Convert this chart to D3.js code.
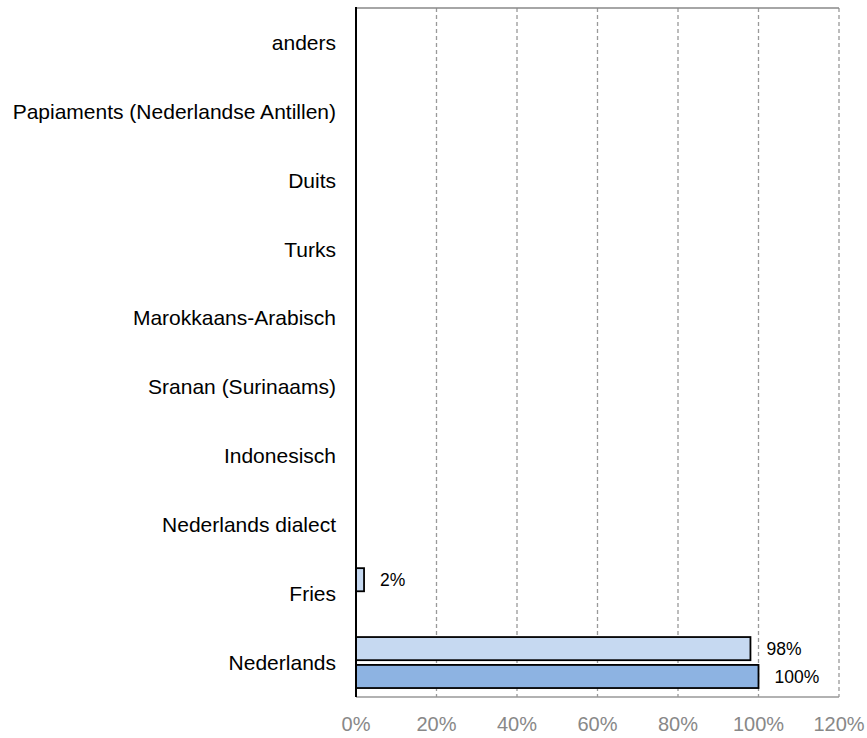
<!DOCTYPE html>
<html><head><meta charset="utf-8">
<script src="https://cdn.jsdelivr.net/npm/d3@7"></script>
<style>body{margin:0;background:#fff}svg{display:block}text{font-family:"Liberation Sans",Arial,sans-serif}</style>
</head><body>
<svg id="c" width="867" height="738"></svg>
<script>
const categories = ["Nederlands","Fries","Nederlands dialect","Indonesisch","Sranan (Surinaams)","Marokkaans-Arabisch","Turks","Duits","Papiaments (Nederlandse Antillen)","anders"];
const seriesNames = ["A","B"];
const seriesA = [98, 2, 0, 0, 0, 0, 0, 0, 0, 0];
const seriesB = [100, null, null, null, null, null, null, null, null, null];
const xTicks = [0, 20, 40, 60, 80, 100, 120];
const colors = ["#C6D9F1", "#8DB3E2"];

const svg = d3.select("#c");
const L = 356, R = 839, T = 8, B = 697;
const x = d3.scaleLinear().domain([0, 120]).range([L, R]);
const y = d3.scaleBand().domain(categories.slice().reverse()).range([T, B]).paddingInner(0.26).paddingOuter(0.13);
const sub = d3.scaleBand().domain(seriesNames).range([0, y.bandwidth()]).paddingInner(0.17);

// grid
svg.append("g").selectAll("line").data(xTicks.slice(1)).join("line")
  .attr("x1", d => x(d)).attr("x2", d => x(d)).attr("y1", T).attr("y2", B)
  .attr("stroke", "#999").attr("stroke-width", 1.3).attr("stroke-dasharray", "4,3");
// frame
svg.append("line").attr("x1", L).attr("x2", R).attr("y1", T).attr("y2", T).attr("stroke", "#888").attr("stroke-width", 1.5);
svg.append("line").attr("x1", L).attr("x2", R).attr("y1", B).attr("y2", B).attr("stroke", "#999").attr("stroke-width", 1.5);

const data = [];
categories.forEach((c, i) => {
  [seriesA, seriesB].forEach((s, j) => {
    if (s[i] !== null && s[i] > 0) data.push({c, s: seriesNames[j], v: s[i], j});
  });
});

svg.append("g").selectAll("rect").data(data).join("rect")
  .attr("x", x(0)).attr("y", d => y(d.c) + sub(d.s))
  .attr("width", d => x(d.v) - x(0)).attr("height", sub.bandwidth())
  .attr("fill", d => colors[d.j]).attr("stroke", "#000").attr("stroke-width", 1.8);

svg.append("g").selectAll("text").data(data).join("text")
  .attr("x", d => x(d.v) + 16).attr("y", d => y(d.c) + sub(d.s) + sub.bandwidth() / 2)
  .attr("dy", "0.35em").attr("font-size", 17.5).attr("fill", "#000")
  .text(d => d.v + "%");

// left axis
svg.append("line").attr("x1", L).attr("x2", L).attr("y1", T - 1).attr("y2", B).attr("stroke", "#000").attr("stroke-width", 2);

// category labels
const yc = d3.scaleBand().domain(categories.slice().reverse()).range([T, B]);
svg.append("g").selectAll("text").data(categories).join("text")
  .attr("x", 336).attr("y", d => yc(d) + yc.bandwidth() / 2)
  .attr("dy", "0.35em").attr("text-anchor", "end").attr("font-size", 21).attr("fill", "#000")
  .text(d => d);

// x tick labels
svg.append("g").selectAll("text").data(xTicks).join("text")
  .attr("x", d => x(d)).attr("y", 724).attr("dy", "0.35em")
  .attr("text-anchor", "middle").attr("font-size", 20).attr("fill", "#888")
  .text(d => d + "%");
</script>
</body></html>
